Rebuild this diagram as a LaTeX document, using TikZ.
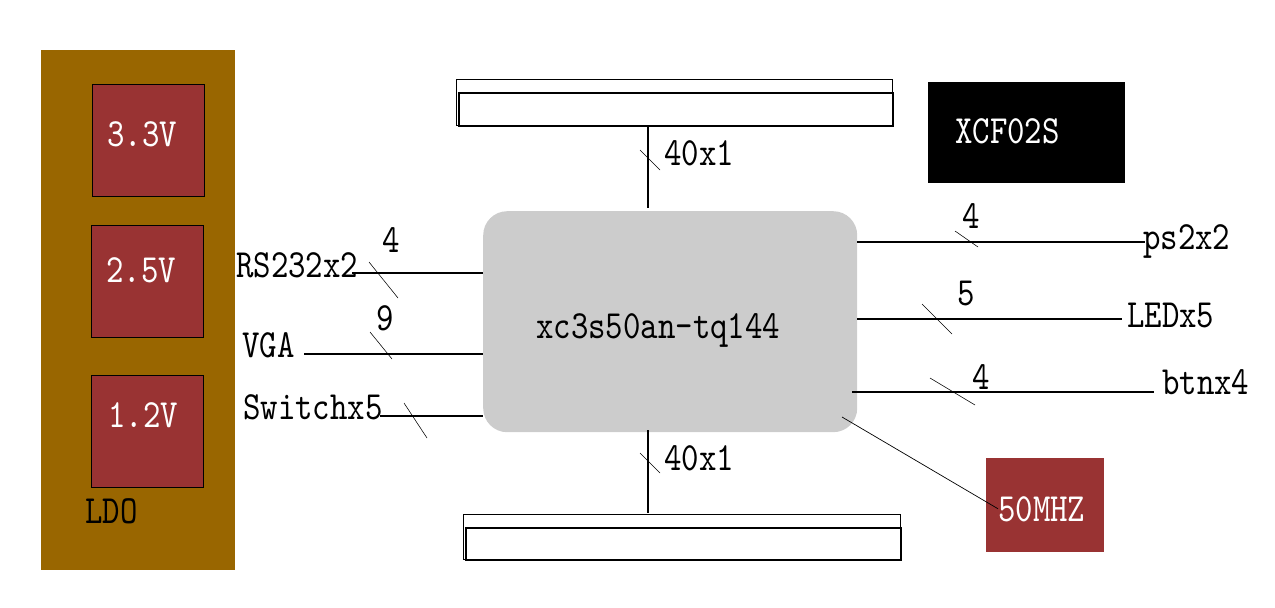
\documentclass[tikz,border=0pt]{standalone}
\usepackage{fontspec}
\newfontfamily\lbfont{lmmono10-regular.otf}[FakeStretch=0.83]
\definecolor{ldo}{HTML}{996600}
\definecolor{regred}{HTML}{993333}
\definecolor{chipgrey}{HTML}{CCCCCC}
\tikzset{
  lbl/.style={inner sep=0pt, anchor=base west, font=\lbfont\fontsize{40}{42}\selectfont},
  wlbl/.style={lbl, text=white},
  reg/.style={draw=black, line width=0.6pt, fill=regred, inner sep=0pt, anchor=north west},
  wire/.style={line width=1.1pt},
  tick/.style={line width=0.55pt},
  conn/.style={draw=black, line width=1.1pt, anchor=north west, inner sep=0pt},
}
\begin{document}
\begin{tikzpicture}[x=1pt,y=-1pt]
\useasboundingbox (0,0) rectangle (1275,608);
% LDO block
\node[fill=ldo, inner sep=0pt, anchor=north west, minimum width=194pt, minimum height=520pt] (ldo) at (41,50) {};
\node[reg, minimum width=112pt, minimum height=112pt] (r33) at (92,84) {};
\node[reg, minimum width=112pt, minimum height=112pt] (r25) at (91,225) {};
\node[reg, minimum width=112pt, minimum height=112pt] (r12) at (91,375) {};
\node[wlbl] (t33) at (107,146) {3.3V};
\node[wlbl] (t25) at (106,282) {2.5V};
\node[wlbl] (t12) at (108,427) {1.2V};
\node[lbl] (tldo) at (85,523) {LDO};
% connectors
\node[conn, minimum width=436pt, minimum height=46pt] (topc) at (456,79) {};
\node[conn, line width=1.8pt, minimum width=434pt, minimum height=33pt] (topci) at (458,92) {};
\node[conn, minimum width=437pt, minimum height=45pt] (botc) at (463,514) {};
\node[conn, line width=1.8pt, minimum width=435pt, minimum height=32pt] (botci) at (465,527) {};
% FPGA
\node[fill=chipgrey, rounded corners=24pt, inner sep=0pt, anchor=north west, minimum width=374pt, minimum height=221pt] (fpga) at (483,211) {};
\node[lbl] (tfpga) at (536,338) {xc3s50an-tq144};
% XCF02S
\node[fill=black, inner sep=0pt, anchor=north west, minimum width=197pt, minimum height=101pt] (xcf) at (928,82) {};
\node[wlbl] (txcf) at (955,143) {XCF02S};
% 50MHZ
\node[fill=regred, inner sep=0pt, anchor=north west, minimum width=118pt, minimum height=94pt] (osc) at (986,458) {};
\node[wlbl] (tosc) at (998,521) {50MHZ};
% top / bottom buses
\coordinate (tb1) at (648,125); \coordinate (tb2) at (648,208);
\draw[wire] (tb1) -- (tb2);
\draw[tick] (640,150) -- (660,170);
\node[lbl] (t40a) at (664,165) {40x1};
\coordinate (bb1) at (648,430); \coordinate (bb2) at (648,513);
\draw[wire] (bb1) -- (bb2);
\draw[tick] (640,453) -- (660,473);
\node[lbl] (t40b) at (664,470) {40x1};
% left signals
\node[lbl] (trs) at (236,277) {RS232x2};
\node[lbl] (tvga) at (242,357) {VGA};
\node[lbl] (tsw) at (243,419) {Switchx5};
\coordinate (rs0) at (352,273);
\coordinate (vga0) at (304,354);
\coordinate (sw0) at (380,416);
\draw[wire] (rs0) -- (rs0 -| fpga.west);
\draw[wire] (vga0) -- (vga0 -| fpga.west);
\draw[wire] (sw0) -- (sw0 -| fpga.west);
\draw[tick] (369,262) -- (398,298);
\draw[tick] (370,332) -- (392,359);
\draw[tick] (404,403) -- (427,438);
\node[lbl] (n4a) at (382,252) {4};
\node[lbl] (n9) at (376,330) {9};
% right signals
\node[lbl] (tps2) at (1143,249) {ps2x2};
\node[lbl] (tled) at (1127,327) {LEDx5};
\node[lbl] (tbtn) at (1162,394) {btnx4};
\coordinate (ps0) at (1145,242);
\coordinate (led0) at (1122,319);
\coordinate (btn0) at (1154,392);
\draw[line width=1.6pt] (ps0 -| fpga.east) -- (1125,242);
\draw[wire] (1125,242) -- (ps0);
\draw[wire] (led0 -| fpga.east) -- (led0);
\draw[wire] (852,392) -- (btn0);
\draw[tick] (955,231) -- (978,247);
\draw[tick] (922,304) -- (952,334);
\draw[tick] (930,378) -- (975,405);
\node[lbl] (n4b) at (962,228) {4};
\node[lbl] (n5) at (957,305) {5};
\node[lbl] (n4c) at (972,389) {4};
% clock
\coordinate (clk0) at (842,417);
\draw[tick, line width=0.7pt] (clk0) -- (tosc.west);
\end{tikzpicture}
\end{document}
